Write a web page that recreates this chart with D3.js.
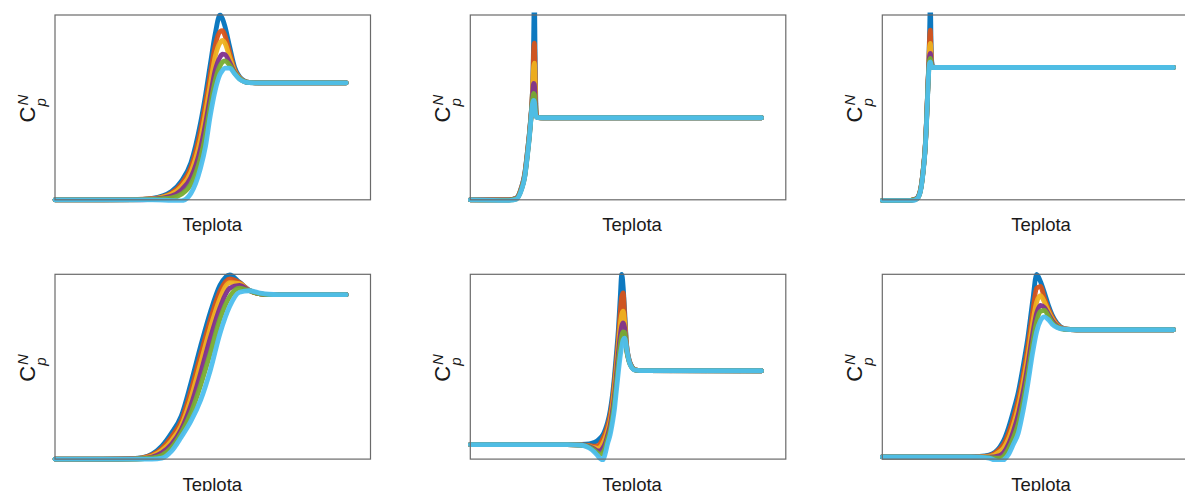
<!DOCTYPE html>
<html>
<head>
<meta charset="utf-8">
<script src="https://cdn.jsdelivr.net/npm/d3@7"></script>
<style>
  html, body { margin: 0; padding: 0; background: #fff; }
  svg { display: block; }
</style>
</head>
<body>
<div id="chart"></div>
<script>
// Normalised heat capacity C_p^N against temperature, six parameter sets,
// each with six curves (MATLAB default colour order).
const seriesColors = ["#0072BD", "#D95319", "#EDB120", "#7E2F8E", "#77AC30", "#4DBEEE"];
const axisLabelX = "Teplota";

// Panel (row 1, column 1)
const tempA = [0,100,160,200,240,260,280,300,310,320,330,340,345,350,360,370,380,390,400,420,450,600];
const cpA = [
  [0,0,0.001,0.008,0.045,0.1,0.2,0.418,0.565,0.734,0.897,1.0,0.98,0.94,0.826,0.717,0.666,0.644,0.636,0.633,0.633,0.633],
  [0,0,0.001,0.006,0.037,0.085,0.175,0.375,0.52,0.68,0.835,0.91,0.915,0.89,0.795,0.705,0.662,0.642,0.635,0.633,0.633,0.633],
  [0,0,0.001,0.005,0.03,0.07,0.15,0.33,0.47,0.625,0.775,0.85,0.862,0.848,0.77,0.697,0.66,0.641,0.635,0.633,0.633,0.633],
  [0,0,0,0.003,0.02,0.052,0.12,0.28,0.41,0.56,0.70,0.772,0.788,0.786,0.742,0.69,0.657,0.64,0.634,0.633,0.633,0.633],
  [0,0,0,0.002,0.01,0.03,0.085,0.23,0.35,0.51,0.645,0.725,0.745,0.752,0.728,0.686,0.656,0.64,0.634,0.633,0.633,0.633],
  [0,0,0,0,-0.004,-0.006,0.035,0.174,0.288,0.457,0.592,0.679,0.70,0.712,0.712,0.682,0.653,0.639,0.634,0.633,0.633,0.633]
];

// Panel (row 1, column 2)
const tempB = [0,80,95,105,112,118,122,125,127,129,130.5,132,133.5,135,137,140,150,600];
const cpB = [
  [0,0,0.01,0.065,0.14,0.27,0.37,0.46,0.53,0.66,0.88,1.12,0.8,0.52,0.455,0.446,0.444,0.444],
  [0,0,0.009,0.062,0.135,0.265,0.365,0.455,0.525,0.65,0.81,0.848,0.7,0.5,0.452,0.445,0.444,0.444],
  [0,0,0.008,0.06,0.13,0.26,0.36,0.45,0.52,0.64,0.72,0.739,0.63,0.485,0.45,0.445,0.444,0.444],
  [0,0,0.007,0.057,0.127,0.255,0.355,0.445,0.515,0.6,0.63,0.625,0.56,0.47,0.448,0.445,0.444,0.444],
  [0,-0.002,0.005,0.054,0.123,0.25,0.35,0.44,0.51,0.56,0.576,0.57,0.52,0.46,0.447,0.445,0.444,0.444],
  [0,-0.004,0.003,0.05,0.12,0.245,0.345,0.435,0.5,0.53,0.538,0.53,0.49,0.455,0.446,0.445,0.444,0.444]
];

// Panel (row 1, column 3)
const tempC = [0,55,64,70,75,80,85,88,91,94,96,97.5,99,100.5,102,104,110,600];
const cpC = [
  [-0.004,-0.004,0,0.006,0.022,0.075,0.185,0.275,0.43,0.63,0.76,0.92,1.08,0.85,0.745,0.72,0.716,0.716],
  [-0.004,-0.004,0,0.006,0.021,0.073,0.182,0.272,0.425,0.625,0.75,0.88,0.918,0.8,0.735,0.718,0.716,0.716],
  [-0.004,-0.004,0,0.005,0.02,0.071,0.18,0.27,0.42,0.62,0.74,0.83,0.846,0.78,0.728,0.717,0.716,0.716],
  [-0.004,-0.004,0,0.005,0.019,0.069,0.177,0.267,0.415,0.615,0.73,0.78,0.792,0.76,0.724,0.717,0.716,0.716],
  [-0.004,-0.004,0,0.004,0.018,0.067,0.175,0.265,0.41,0.61,0.715,0.755,0.765,0.745,0.72,0.716,0.716,0.716],
  [-0.004,-0.004,-0.005,0.002,0.016,0.064,0.17,0.26,0.405,0.6,0.705,0.74,0.746,0.73,0.718,0.716,0.716,0.716]
];

// Panel (row 2, column 1)
const tempD = [0,100,160,180,200,220,240,260,280,300,320,340,360,380,400,420,440,460,480,600];
const cpD = [
  [0,0,0.003,0.008,0.027,0.07,0.141,0.232,0.411,0.611,0.795,0.941,0.997,0.957,0.914,0.895,0.89,0.89,0.89,0.89],
  [0,0,0.002,0.007,0.022,0.058,0.12,0.205,0.37,0.565,0.755,0.91,0.975,0.955,0.913,0.895,0.89,0.89,0.89,0.89],
  [0,0,0.001,0.005,0.017,0.047,0.1,0.18,0.33,0.52,0.71,0.87,0.955,0.95,0.913,0.895,0.89,0.89,0.89,0.89],
  [0,0,0.001,0.003,0.011,0.034,0.08,0.16,0.29,0.465,0.655,0.82,0.925,0.94,0.913,0.895,0.89,0.89,0.89,0.89],
  [0,0,0,0.002,0.006,0.02,0.062,0.14,0.25,0.40,0.575,0.76,0.88,0.925,0.912,0.895,0.89,0.89,0.89,0.89],
  [0,0,0,0,0,0.005,0.043,0.119,0.205,0.319,0.481,0.681,0.827,0.903,0.911,0.9,0.892,0.89,0.89,0.89]
];

// Panel (row 2, column 2)
const tempE = [0,200,230,245,255,262,268,273,278,283,288,293,297,301,305,309,312,315,318,322,327,333,340,350,600];
const cpE = [
  [0.078,0.078,0.079,0.082,0.09,0.1,0.115,0.13,0.16,0.2,0.26,0.35,0.45,0.57,0.7,0.88,1.0,0.93,0.8,0.62,0.54,0.5,0.484,0.479,0.478],
  [0.078,0.078,0.077,0.074,0.07,0.072,0.085,0.11,0.14,0.18,0.235,0.32,0.42,0.53,0.65,0.8,0.88,0.9,0.77,0.615,0.537,0.499,0.483,0.479,0.478],
  [0.078,0.078,0.076,0.07,0.062,0.058,0.065,0.085,0.115,0.155,0.205,0.29,0.38,0.49,0.61,0.73,0.785,0.8,0.74,0.605,0.534,0.498,0.483,0.479,0.478],
  [0.078,0.078,0.076,0.068,0.055,0.045,0.045,0.06,0.085,0.13,0.18,0.26,0.34,0.45,0.57,0.67,0.72,0.737,0.71,0.595,0.531,0.497,0.482,0.479,0.478],
  [0.078,0.078,0.075,0.065,0.048,0.033,0.025,0.035,0.06,0.11,0.155,0.23,0.31,0.41,0.52,0.62,0.67,0.688,0.685,0.588,0.528,0.495,0.481,0.479,0.478],
  [0.078,0.078,0.075,0.06,0.04,0.02,0.002,-0.005,0.03,0.085,0.13,0.2,0.27,0.37,0.47,0.56,0.61,0.645,0.655,0.6,0.53,0.494,0.481,0.479,0.478]
];

// Panel (row 2, column 3)
const tempF = [0,180,200,220,242,250,260,270,280,290,300,310,318,326,334,342,350,360,375,400,600];
const cpF = [
  [0.012,0.012,0.014,0.022,0.065,0.1,0.17,0.26,0.36,0.5,0.66,0.86,1.0,0.96,0.9,0.834,0.78,0.735,0.706,0.7,0.7],
  [0.012,0.012,0.013,0.018,0.055,0.08,0.14,0.22,0.32,0.45,0.61,0.8,0.925,0.935,0.87,0.815,0.77,0.73,0.705,0.7,0.7],
  [0.012,0.012,0.012,0.014,0.04,0.06,0.11,0.185,0.28,0.41,0.56,0.74,0.85,0.885,0.85,0.8,0.76,0.725,0.704,0.7,0.7],
  [0.012,0.012,0.011,0.01,0.02,0.035,0.08,0.15,0.24,0.36,0.51,0.68,0.79,0.832,0.82,0.785,0.75,0.72,0.703,0.7,0.7],
  [0.012,0.012,0.011,0.008,0.005,0.015,0.055,0.115,0.19,0.31,0.46,0.63,0.745,0.8,0.805,0.775,0.74,0.716,0.702,0.7,0.7],
  [0.012,0.012,0.011,0.005,-0.013,-0.005,0.025,0.08,0.14,0.26,0.41,0.58,0.69,0.75,0.77,0.755,0.73,0.712,0.703,0.7,0.7]
];

const panels = [
  { row: 0, col: 0, temp: tempA, cp: cpA },
  { row: 0, col: 1, temp: tempB, cp: cpB },
  { row: 0, col: 2, temp: tempC, cp: cpC },
  { row: 1, col: 0, temp: tempD, cp: cpD },
  { row: 1, col: 1, temp: tempE, cp: cpE },
  { row: 1, col: 2, temp: tempF, cp: cpF }
];

// Layout of the 2 x 3 grid of axes
const W = 1185, H = 491;
const colLeft = [55, 470.3, 882.3];
const labelShift = [-0.5, 4, 1];
const rowTop = [15, 274.3];
const plotW = 315.5, plotH = 184.8;
const fontFamily = "'Liberation Sans', Arial, Helvetica, sans-serif";

const svg = d3.select("#chart").append("svg")
  .attr("width", W).attr("height", H)
  .attr("viewBox", `0 0 ${W} ${H}`);
svg.append("rect").attr("width", W).attr("height", H).attr("fill", "#fff");

panels.forEach((p, i) => {
  const left = colLeft[p.col], top = rowTop[p.row];
  const x = d3.scaleLinear().domain([0, 650]).range([left, left + plotW]);
  const y = d3.scaleLinear().domain([0, 1]).range([top + plotH, top]);

  const clipId = "clip" + i;
  svg.append("clipPath").attr("id", clipId)
    .append("rect")
    .attr("x", left - 3).attr("y", top - 2.5)
    .attr("width", plotW + 6).attr("height", plotH + 5.5);

  const line = d3.line()
    .x(d => x(d[0]))
    .y(d => y(d[1]))
    .curve(d3.curveMonotoneX);

  const g = svg.append("g").attr("clip-path", `url(#${clipId})`);
  p.cp.forEach((vals, k) => {
    const pts = p.temp.map((t, j) => [t, vals[j]]);
    g.append("path")
      .datum(pts)
      .attr("d", line)
      .attr("fill", "none")
      .attr("stroke", seriesColors[k])
      .attr("stroke-width", 4.8)
      .attr("stroke-linejoin", "round")
      .attr("stroke-linecap", "round")
      .attr("opacity", 0.95);
  });

  // axes box without ticks
  svg.append("rect")
    .attr("x", left).attr("y", top)
    .attr("width", plotW).attr("height", plotH)
    .attr("fill", "none")
    .attr("stroke", "#6a6a6a")
    .attr("stroke-width", 1.2);

  // x label
  svg.append("text")
    .attr("x", left + plotW / 2 + labelShift[p.col])
    .attr("y", top + plotH + 31.5)
    .attr("text-anchor", "middle")
    .attr("font-family", fontFamily)
    .attr("font-size", 18.5)
    .attr("fill", "#1a1a1a")
    .text(axisLabelX);

  // y label C_p^N, rotated, with stacked sub/superscript
  const cy = top + plotH / 2;
  const yl = svg.append("g")
    .attr("transform", `translate(${left - 20},${cy + 15}) rotate(-90)`)
    .attr("font-family", fontFamily)
    .attr("fill", "#1a1a1a");
  yl.append("text").attr("x", 0).attr("y", 0)
    .attr("font-size", 22).text("C");
  yl.append("text").attr("x", 16.8).attr("y", -7.5)
    .attr("font-size", 15).attr("font-style", "italic").text("N");
  yl.append("text").attr("x", 16).attr("y", 10.5)
    .attr("font-size", 15).attr("font-style", "italic").text("p");
});
</script>
</body>
</html>
